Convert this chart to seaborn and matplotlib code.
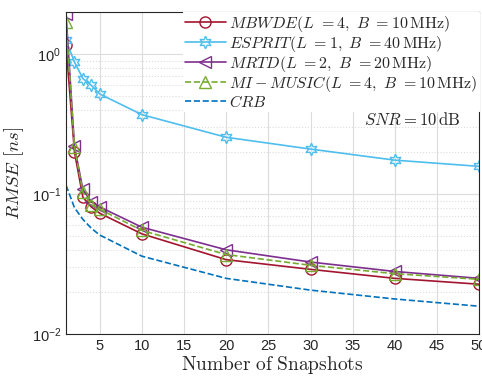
import numpy as np
import pandas as pd
import seaborn as sns
import matplotlib
matplotlib.use("Agg")
import matplotlib.pyplot as plt
from matplotlib.ticker import LogLocator, NullFormatter

sns.set_theme(style="white")
plt.rcParams['font.family'] = ['Liberation Sans', 'DejaVu Sans']
plt.rcParams['mathtext.fontset'] = 'cm'

snapshots = [1, 2, 3, 4, 5, 10, 20, 30, 40, 50]
mbwde = [1.16, 0.20, 0.095, 0.081, 0.073, 0.052, 0.034, 0.029, 0.025, 0.0227]
esprit = [1.26, 0.88, 0.67, 0.60, 0.52, 0.37, 0.255, 0.21, 0.175, 0.158]
mrtd = [1.93, 0.22, 0.108, 0.088, 0.081, 0.058, 0.040, 0.0327, 0.028, 0.025]
mimusic = [1.69, 0.217, 0.103, 0.084, 0.078, 0.055, 0.037, 0.031, 0.027, 0.0246]
crb = [0.116, 0.080, 0.066, 0.057, 0.051, 0.036, 0.025, 0.0206, 0.0178, 0.0158]

labels = [r"$MBWDE(L\ =4,\ B\ =10\,\mathrm{MHz})$",
          r"$ESPRIT(L\ =1,\ B\ =40\,\mathrm{MHz})$",
          r"$MRTD(L\ =2,\ B\ =20\,\mathrm{MHz})$",
          r"$MI-MUSIC(L\ =4,\ B\ =10\,\mathrm{MHz})$",
          r"$CRB$"]
series = [mbwde, esprit, mrtd, mimusic, crb]
colors = ["#A2142F", "#4DBEEE", "#7E2F8E", "#77AC30", "#0072BD"]
markers = ["o", (6, 1, 0), "<", "^", None]
styles = ["-", "-", "-", "--", "--"]
msizes = [8, 9, 9, 9, 0]

df = pd.DataFrame({"x": snapshots * 5,
                   "y": sum(series, []),
                   "s": sum([[l] * len(snapshots) for l in labels], [])})

fig = plt.figure(figsize=(4.82, 3.8), dpi=100)
ax = fig.add_axes([0.137, 0.121, 0.857, 0.847])

for lab, col, mk, ls, ms in zip(labels, colors, markers, styles, msizes):
    sub = df[df.s == lab]
    sns.lineplot(data=sub, x="x", y="y", ax=ax, color=col, linestyle=ls,
                 marker=mk if mk is not None else None, markersize=ms,
                 markerfacecolor="none", markeredgecolor=col, markeredgewidth=1.0,
                 linewidth=1.2, label=lab)

ax.set_yscale("log")
ax.set_xlim(1, 50)
ax.set_ylim(0.01, 2)
ax.set_xticks([5, 10, 15, 20, 25, 30, 35, 40, 45, 50])
ax.yaxis.set_major_locator(LogLocator(base=10, numticks=10))
ax.yaxis.set_minor_locator(LogLocator(base=10, subs=np.arange(2, 10), numticks=20))
ax.yaxis.set_minor_formatter(NullFormatter())
ax.grid(True, which="major", color="#dcdcdc", linewidth=0.8)
ax.grid(True, which="minor", axis="y", color="#dcdcdc", linestyle=":", linewidth=0.8)
ax.tick_params(direction="in", which="both", length=3, labelsize=10.5, colors="#262626")
ax.tick_params(which="minor", length=1.5)
for sp in ax.spines.values():
    sp.set_color("#262626")
    sp.set_linewidth(0.8)

ax.set_xlabel(r"$\mathrm{Number\ of\ Snapshots}$", fontsize=14, color="#262626", labelpad=1)
ax.set_ylabel(r"$RMSE\ [ns]$", fontsize=13.5, color="#262626")
ax.text(0.954, 0.665, r"$SNR=10\,\mathrm{dB}$", transform=ax.transAxes, ha="right",
        va="center", fontsize=12, zorder=10)

leg = ax.legend(loc="upper right", fontsize=11.5, frameon=True, fancybox=False,
                facecolor="white", edgecolor="white", framealpha=1,
                borderaxespad=0, handlelength=2.6,
                handletextpad=0.2, labelspacing=0.0, borderpad=0.1)
leg.get_frame().set_linewidth(0.8)

fig.savefig("out.png", dpi=100)
